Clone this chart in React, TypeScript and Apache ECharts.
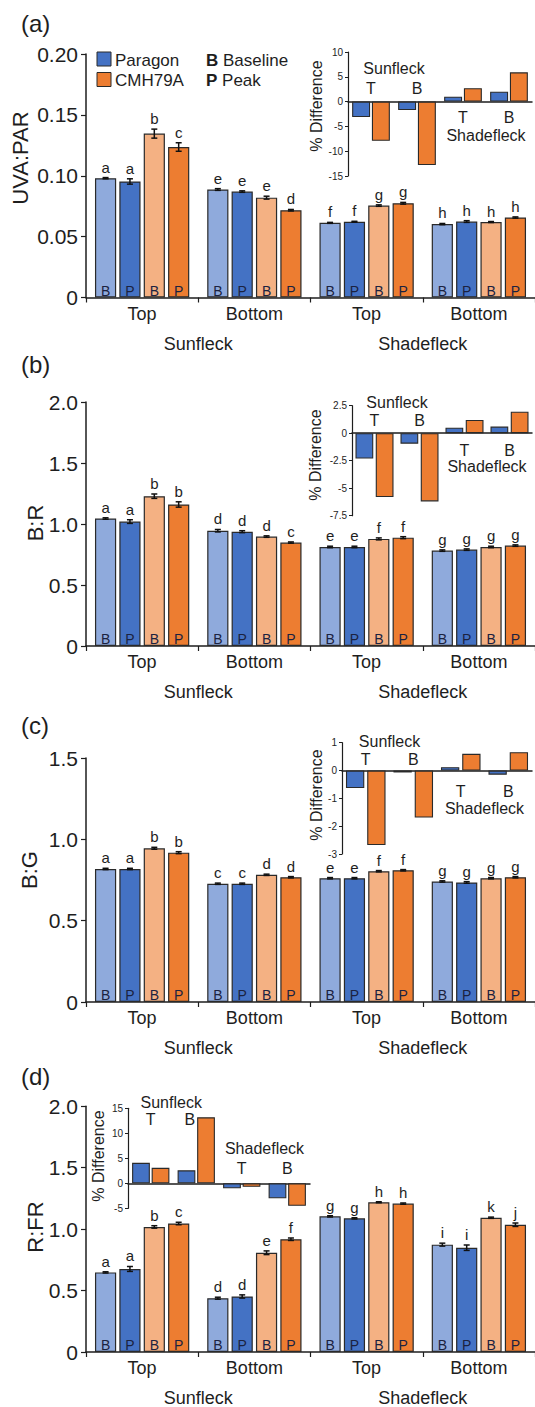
import React, { useEffect, useRef } from "react";
import * as echarts from "echarts";

// ---------- categories ----------
const groupLabels = ["Top", "Bottom", "Top", "Bottom"];
const conditionLabels = ["Sunfleck", "Shadefleck"];
const barSeriesNames = ["Paragon Baseline", "Paragon Peak", "CMH79A Baseline", "CMH79A Peak"];
const barTags = ["B", "P", "B", "P"];
const insetCategories = ["Sunfleck T", "Sunfleck B", "Shadefleck T", "Shadefleck B"];
const insetSeriesNames = ["Paragon", "CMH79A"];

// ---------- (a) UVA:PAR ----------  rows: Paragon B, Paragon P, CMH79A B, CMH79A P
const uvaParMean = [
  [0.098, 0.0887, 0.0613, 0.0603],
  [0.0953, 0.087, 0.0622, 0.0624],
  [0.1346, 0.082, 0.0755, 0.062],
  [0.1236, 0.0717, 0.0774, 0.0657],
];
const uvaParErr = [
  [0.0005, 0.0007, 0.0004, 0.0005],
  [0.0022, 0.0006, 0.0004, 0.0007],
  [0.0037, 0.0012, 0.0006, 0.0004],
  [0.0035, 0.0006, 0.0007, 0.0005],
];
const uvaParLetters = [
  ["a", "e", "f", "h"],
  ["a", "e", "f", "h"],
  ["b", "e", "g", "h"],
  ["c", "d", "g", "h"],
];
const uvaParDiff = [
  [-3.1, -1.7, 1.0, 2.0],
  [-7.9, -12.8, 2.7, 5.9],
];

// ---------- (b) B:R ----------
const brMean = [
  [1.045, 0.945, 0.812, 0.782],
  [1.02, 0.937, 0.812, 0.79],
  [1.228, 0.897, 0.878, 0.812],
  [1.16, 0.848, 0.888, 0.823],
];
const brErr = [
  [0.006, 0.01, 0.006, 0.006],
  [0.015, 0.008, 0.006, 0.006],
  [0.018, 0.006, 0.008, 0.006],
  [0.022, 0.005, 0.008, 0.006],
];
const brLetters = [
  ["a", "d", "e", "g"],
  ["a", "d", "e", "g"],
  ["b", "d", "f", "g"],
  ["b", "c", "f", "g"],
];
const brDiff = [
  [-2.3, -0.95, 0.5, 0.6],
  [-5.8, -6.2, 1.2, 1.95],
];

// ---------- (c) B:G ----------
const bgMean = [
  [0.818, 0.727, 0.761, 0.741],
  [0.818, 0.727, 0.761, 0.735],
  [0.945, 0.782, 0.804, 0.761],
  [0.918, 0.767, 0.81, 0.767],
];
const bgErr = [
  [0.004, 0.004, 0.004, 0.004],
  [0.004, 0.004, 0.004, 0.005],
  [0.006, 0.004, 0.004, 0.004],
  [0.006, 0.004, 0.004, 0.004],
];
const bgLetters = [
  ["a", "c", "e", "g"],
  ["a", "c", "e", "g"],
  ["b", "d", "f", "g"],
  ["b", "d", "f", "g"],
];
const bgDiff = [
  [-0.63, -0.07, 0.12, -0.15],
  [-2.68, -1.69, 0.6, 0.66],
];

// ---------- (d) R:FR ----------
const rfrMean = [
  [0.648, 0.438, 1.104, 0.874],
  [0.676, 0.452, 1.088, 0.849],
  [1.018, 0.808, 1.219, 1.093],
  [1.046, 0.918, 1.208, 1.036],
];
const rfrErr = [
  [0.005, 0.008, 0.005, 0.012],
  [0.02, 0.013, 0.005, 0.022],
  [0.01, 0.015, 0.004, 0.005],
  [0.01, 0.01, 0.005, 0.014],
];
const rfrLetters = [
  ["a", "d", "g", "i"],
  ["a", "d", "g", "i"],
  ["b", "e", "h", "k"],
  ["c", "f", "h", "j"],
];
const rfrDiff = [
  [4.1, 2.6, -1.0, -3.0],
  [3.1, 13.2, -0.7, -4.5],
];

// inset annotations (between categories "from" and "to", weight w along that span, at value level y)
const insetNotesA = [
  { text: "Sunfleck", from: 0, to: 1, w: 0.5, y: 6.6 },
  { text: "T", from: 0, to: 0, w: 0, y: 2.7 },
  { text: "B", from: 1, to: 1, w: 0, y: 2.7 },
  { text: "T", from: 2, to: 2, w: 0, y: -3.2 },
  { text: "B", from: 3, to: 3, w: 0, y: -3.2 },
  { text: "Shadefleck", from: 2, to: 3, w: 0.5, y: -6.8 },
];
const insetNotesB = [
  { text: "Sunfleck", from: 0, to: 1, w: 0.5, y: 2.8 },
  { text: "T", from: 0, to: 0, w: 0, y: 1.2 },
  { text: "B", from: 1, to: 1, w: 0, y: 1.2 },
  { text: "T", from: 2, to: 2, w: 0, y: -1.55 },
  { text: "B", from: 3, to: 3, w: 0, y: -1.55 },
  { text: "Shadefleck", from: 2, to: 3, w: 0.5, y: -3.0 },
];
const insetNotesC = [
  { text: "Sunfleck", from: 0, to: 1, w: 0.5, y: 1.04 },
  { text: "T", from: 0, to: 0, w: 0, y: 0.38 },
  { text: "B", from: 1, to: 1, w: 0, y: 0.38 },
  { text: "T", from: 2, to: 2, w: 0, y: -0.75 },
  { text: "B", from: 3, to: 3, w: 0, y: -0.75 },
  { text: "Shadefleck", from: 2, to: 3, w: 0.5, y: -1.35 },
];
const insetNotesD = [
  { text: "Sunfleck", from: 0, to: 1, w: 0.45, y: 16.1 },
  { text: "T", from: 0, to: 0, w: 0, y: 12.7 },
  { text: "B", from: 0, to: 1, w: 0.86, y: 12.7 },
  { text: "Shadefleck", from: 2, to: 3, w: 0.5, y: 7.0 },
  { text: "T", from: 2, to: 2, w: 0, y: 3.0 },
  { text: "B", from: 3, to: 3, w: 0, y: 3.0 },
];

// ---------- styles ----------
const FONT = '"Liberation Sans", Arial, Helvetica, sans-serif';
const INK = "#1e1e1e";
const BAR_COLORS = ["#8faadc", "#4472c4", "#f4b183", "#ed7d31"];
const INSET_COLORS = ["#4472c4", "#ed7d31"];
const TAG_COLOR = "#1b2240";
const CAT_GAP = 0.16;
const BAR_GAP = 0.15;

const panels = [
  {
    label: "(a)", labelY: 25, yName: "UVA:PAR", yNameX: 20, yNameY: 158,
    mean: uvaParMean, err: uvaParErr, letters: uvaParLetters, max: 0.2, interval: 0.05, decimals: 2,
    grid: { top: 54, height: 243.5 },
    diff: uvaParDiff, notes: insetNotesA,
    inset: { left: 348, top: 52, width: 184, height: 124, min: -15, max: 10, interval: 5, catGap: "18%", barGap: "10%" },
    diffLabel: { x: 316, y: 106 },
  },
  {
    label: "(b)", labelY: 366, yName: "B:R", yNameX: 35.5, yNameY: 523,
    mean: brMean, err: brErr, letters: brLetters, max: 2.0, interval: 0.5, decimals: 1,
    grid: { top: 402, height: 244 },
    diff: brDiff, notes: insetNotesB,
    inset: { left: 352, top: 405.7, width: 180, height: 110, min: -7.5, max: 2.5, interval: 2.5, catGap: "15.5%", barGap: "14%" },
    diffLabel: { x: 315, y: 455 },
  },
  {
    label: "(c)", labelY: 727, yName: "B:G", yNameX: 29, yNameY: 870,
    mean: bgMean, err: bgErr, letters: bgLetters, max: 1.5, interval: 0.5, decimals: 1,
    grid: { top: 758, height: 244 },
    diff: bgDiff, notes: insetNotesC,
    inset: { left: 342, top: 742.7, width: 190, height: 111.3, min: -3, max: 1, interval: 1, catGap: "16.7%", barGap: "16%" },
    diffLabel: { x: 316, y: 795 },
  },
  {
    label: "(d)", labelY: 1078, yName: "R:FR", yNameX: 35.5, yNameY: 1227,
    mean: rfrMean, err: rfrErr, letters: rfrLetters, max: 2.0, interval: 0.5, decimals: 1,
    grid: { top: 1106.3, height: 246 },
    diff: rfrDiff, notes: insetNotesD,
    inset: { left: 128, top: 1108.3, width: 182, height: 100, min: -5, max: 15, interval: 5, catGap: "18%", barGap: "10%" },
    diffLabel: { x: 98, y: 1156 },
  },
];

function barOffset(band: number, i: number) {
  const n = 4;
  const bw = (band * (1 - CAT_GAP)) / (n + (n - 1) * BAR_GAP);
  const total = n * bw + (n - 1) * BAR_GAP * bw;
  return -total / 2 + i * bw * (1 + BAR_GAP) + bw / 2;
}

function buildOption() {
  const grid: any[] = [];
  const xAxis: any[] = [];
  const yAxis: any[] = [];
  const series: any[] = [];
  const graphic: any[] = [];

  panels.forEach((p, pi) => {
    const gMain = pi * 2;
    const gInset = pi * 2 + 1;
    grid.push({ left: 86, right: 0, top: p.grid.top, height: p.grid.height, containLabel: false });
    grid.push({ left: p.inset.left, top: p.inset.top, width: p.inset.width, height: p.inset.height, containLabel: false });

    // main x axis (groups)
    xAxis.push({
      type: "category", gridIndex: gMain, data: groupLabels,
      axisLine: { show: true, lineStyle: { color: INK, width: 1.5 } },
      axisTick: { show: true, length: 5, interval: 0, alignWithLabel: false, lineStyle: { color: INK, width: 1.2 } },
      axisLabel: { show: true, interval: 0, margin: 7, fontSize: 18, color: INK, fontFamily: FONT },
      splitLine: { show: false },
    });
    // condition x axis
    xAxis.push({
      type: "category", gridIndex: gMain, data: conditionLabels, position: "bottom",
      axisLine: { show: false }, axisTick: { show: false }, splitLine: { show: false },
      axisLabel: { show: true, interval: 0, margin: 37, fontSize: 18, color: INK, fontFamily: FONT },
    });
    // inset x axis
    xAxis.push({
      type: "category", gridIndex: gInset, data: insetCategories,
      axisLine: { show: true, onZero: true, lineStyle: { color: INK, width: 1.5 } },
      axisTick: { show: false }, axisLabel: { show: false }, splitLine: { show: false },
    });

    yAxis.push({
      type: "value", gridIndex: gMain, min: 0, max: p.max, interval: p.interval,
      axisLine: { show: true, lineStyle: { color: INK, width: 1.5 } },
      axisTick: { show: true, length: 5, lineStyle: { color: INK, width: 1.2 } },
      splitLine: { show: false },
      axisLabel: {
        fontSize: 21, color: INK, fontFamily: FONT, margin: 8,
        formatter: (v: number) => (v === 0 ? "0" : v.toFixed(p.decimals)),
      },
    });
    yAxis.push({
      type: "value", gridIndex: gInset, min: p.inset.min, max: p.inset.max, interval: p.inset.interval,
      axisLine: { show: true, lineStyle: { color: INK, width: 1.2 } },
      axisTick: { show: true, length: 3, lineStyle: { color: INK, width: 1 } },
      splitLine: { show: false },
      axisLabel: { fontSize: 10, color: INK, fontFamily: FONT, margin: 5 },
    });

    // main bars
    p.mean.forEach((vals, s) => {
      series.push({
        type: "bar", name: barSeriesNames[s], xAxisIndex: pi * 3, yAxisIndex: gMain,
        data: vals, barGap: `${BAR_GAP * 100}%`, barCategoryGap: `${CAT_GAP * 100}%`,
        itemStyle: { color: BAR_COLORS[s], borderColor: "#2a2a2a", borderWidth: 1.2 },
        label: {
          show: true, position: "insideBottom", distance: 0, formatter: barTags[s],
          fontSize: 14, color: TAG_COLOR, fontFamily: FONT,
        },
        z: 2,
      });
    });

    // error bars + letters
    const flat: any[] = [];
    const flatLetters: string[] = [];
    p.mean.forEach((vals, s) => {
      vals.forEach((v, g) => {
        flat.push([g, v, p.err[s][g], s]);
        flatLetters.push(p.letters[s][g]);
      });
    });
    series.push({
      type: "custom", xAxisIndex: pi * 3, yAxisIndex: gMain, data: flat, z: 5,
      encode: { x: 0, y: 1 },
      renderItem: (params: any, api: any) => {
        const g = api.value(0), v = api.value(1), e = api.value(2), s = api.value(3);
        const band = api.size([1, 0])[0];
        const cx = api.coord([g, v])[0] + barOffset(band, s);
        const yTop = api.coord([g, v + e])[1];
        const yBot = api.coord([g, v - e])[1];
        const st = { stroke: "#111", lineWidth: 1.5 };
        return {
          type: "group",
          children: [
            { type: "line", shape: { x1: cx, y1: yTop, x2: cx, y2: yBot }, style: st },
            { type: "line", shape: { x1: cx - 3, y1: yTop, x2: cx + 3, y2: yTop }, style: st },
            { type: "line", shape: { x1: cx - 3, y1: yBot, x2: cx + 3, y2: yBot }, style: st },
            {
              type: "text", x: cx, y: yTop - 3,
              style: { text: flatLetters[params.dataIndex], fill: INK, fontSize: 15, fontFamily: FONT, align: "center", verticalAlign: "bottom" },
            },
          ],
        };
      },
    });

    // inset bars
    p.diff.forEach((vals, s) => {
      series.push({
        type: "bar", name: insetSeriesNames[s], xAxisIndex: pi * 3 + 2, yAxisIndex: gInset,
        data: vals, barGap: p.inset.barGap, barCategoryGap: p.inset.catGap,
        itemStyle: { color: INSET_COLORS[s], borderColor: "#2a2a2a", borderWidth: 1.1 },
        z: 3,
      });
    });
    // inset annotations
    const notes = p.notes;
    series.push({
      type: "custom", xAxisIndex: pi * 3 + 2, yAxisIndex: gInset,
      data: notes.map((n) => [n.from, n.y]), encode: { x: 0, y: 1 }, z: 6,
      renderItem: (params: any, api: any) => {
        const n = notes[params.dataIndex];
        const a = api.coord([n.from, n.y]);
        const b = api.coord([n.to, n.y]);
        return {
          type: "text", x: a[0] + (b[0] - a[0]) * n.w, y: a[1],
          style: { text: n.text, fill: INK, fontSize: 16, fontFamily: FONT, align: "center", verticalAlign: "middle" },
        };
      },
    });

    // texts
    graphic.push({
      type: "text", left: 21, top: p.labelY - 14,
      style: { text: p.label, fill: INK, fontSize: 24, fontFamily: FONT },
    });
    graphic.push({
      type: "text", x: p.yNameX, y: p.yNameY, rotation: Math.PI / 2,
      style: { text: p.yName, fill: INK, fontSize: 22, fontFamily: FONT, align: "center", verticalAlign: "middle" },
    });
    graphic.push({
      type: "text", x: p.diffLabel.x, y: p.diffLabel.y, rotation: Math.PI / 2,
      style: { text: "% Difference", fill: INK, fontSize: 16, fontFamily: FONT, align: "center", verticalAlign: "middle" },
    });
  });

  // legend in (a)
  graphic.push(
    { type: "rect", shape: { x: 97, y: 52, width: 14, height: 14 }, style: { fill: INSET_COLORS[0], stroke: "#2a2a2a", lineWidth: 1 } },
    { type: "rect", shape: { x: 97, y: 72.5, width: 14, height: 14 }, style: { fill: INSET_COLORS[1], stroke: "#2a2a2a", lineWidth: 1 } },
    { type: "text", x: 115, y: 60, style: { text: "Paragon", fill: INK, fontSize: 17, fontFamily: FONT, verticalAlign: "middle" } },
    { type: "text", x: 115, y: 80, style: { text: "CMH79A", fill: INK, fontSize: 17, fontFamily: FONT, verticalAlign: "middle" } },
    {
      type: "text", x: 206, y: 60,
      style: { text: "{b|B} Baseline", fill: INK, fontSize: 17, fontFamily: FONT, verticalAlign: "middle", rich: { b: { fontWeight: "bold", fontSize: 17, fontFamily: FONT, fill: INK } } },
    },
    {
      type: "text", x: 206, y: 80,
      style: { text: "{b|P} Peak", fill: INK, fontSize: 17, fontFamily: FONT, verticalAlign: "middle", rich: { b: { fontWeight: "bold", fontSize: 17, fontFamily: FONT, fill: INK } } },
    }
  );

  return {
    animation: false,
    backgroundColor: "#ffffff",
    textStyle: { fontFamily: FONT },
    grid, xAxis, yAxis, series, graphic,
  };
}

export default function App() {
  const ref = useRef<HTMLDivElement>(null);
  useEffect(() => {
    if (!ref.current) return;
    const chart = echarts.init(ref.current, undefined, { renderer: "svg" });
    chart.setOption(buildOption() as any);
    return () => chart.dispose();
  }, []);
  return (
    <div
      ref={ref}
      style={{ position: "absolute", left: 0, top: 0, width: 535, height: 1407, background: "#fff" }}
    />
  );
}
